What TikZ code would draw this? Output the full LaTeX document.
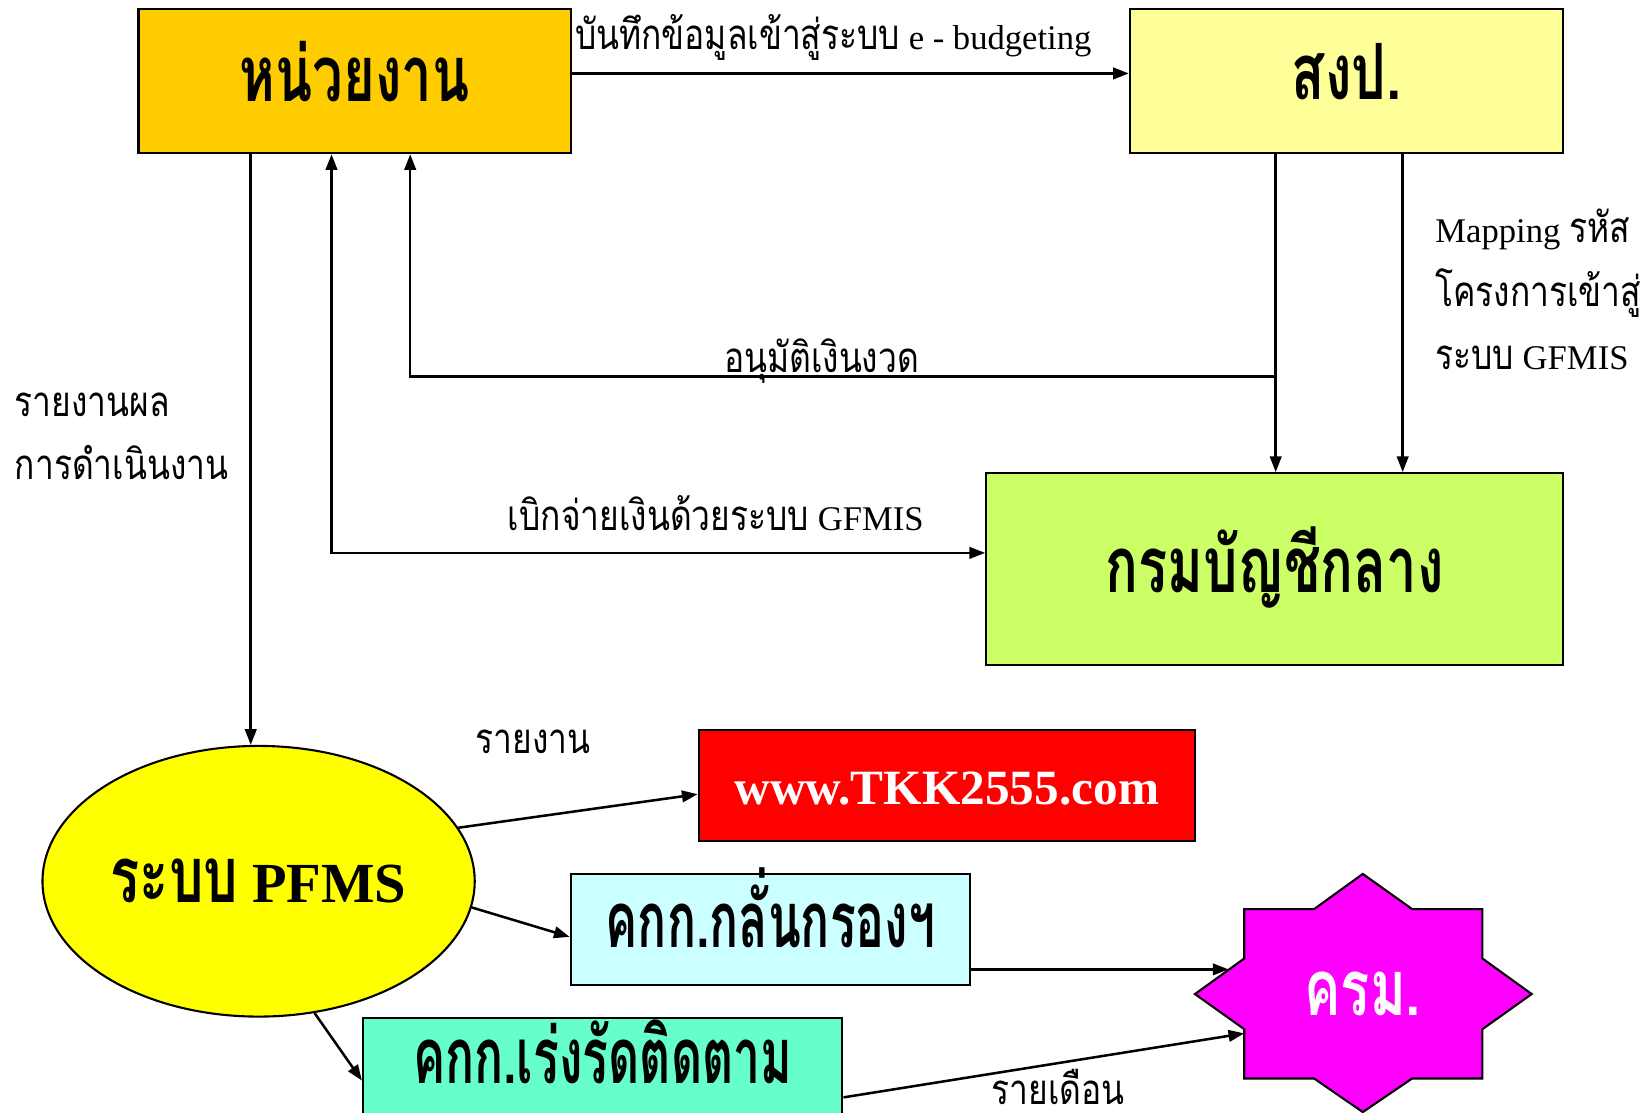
\documentclass[tikz,border=0pt]{standalone}
\usepackage{fontspec}
\usetikzlibrary{arrows.meta,shapes.geometric}
\setmainfont{Liberation Serif}
\newfontfamily\thaiL[Script=Thai,FakeStretch=0.8]{Loma}
\newfontfamily\thaiB[Script=Thai,FakeStretch=0.7]{Loma}
\newfontfamily\thaiC[Script=Thai,FakeStretch=0.62]{Loma}
\newcommand\labth{\fontsize{40}{48}\selectfont\thaiL}
\newcommand\lablat{\fontsize{33}{38}\selectfont\rmfamily}
\newcommand\ttlth{\fontsize{74}{80}\selectfont\thaiB\bfseries}
\newcommand\ttlthn{\fontsize{74}{80}\selectfont\thaiC\bfseries}
\newcommand\ttllat{\fontsize{47}{56}\selectfont\rmfamily\bfseries}
\newcommand\ttllatb{\fontsize{54}{60}\selectfont\rmfamily\bfseries}
\definecolor{cUnit}{HTML}{FFCC00}
\definecolor{cSgp}{HTML}{FFFF99}
\definecolor{cCgd}{HTML}{CCFF66}
\definecolor{cPf}{HTML}{FFFF00}
\definecolor{cWww}{HTML}{FF0000}
\definecolor{cKl}{HTML}{CCFFFF}
\definecolor{cRr}{HTML}{66FFCC}
\definecolor{cKrm}{HTML}{FF00FF}
\begin{document}
\begin{tikzpicture}[x=1pt,y=-1pt,
  box/.style={draw=black,line width=2pt,rectangle,inner sep=0pt,text depth=0pt},
  arr/.style={-{Triangle[length=15pt,width=11pt]},line width=2.4pt},
  arrboth/.style={{Triangle[length=15pt,width=11pt]}-{Triangle[length=15pt,width=11pt]},line width=2.4pt},
  lbl/.style={anchor=base west,inner sep=0pt,font=\lablat}]
\useasboundingbox (0,0) rectangle (1568,1060);
% boxes
\node[box,fill=cUnit,minimum width=412pt,minimum height=137pt,text height=39pt] (unit) at (338,77.5) {\ttlth หน่วยงาน};
\node[box,fill=cSgp,minimum width=413pt,minimum height=137pt,text height=35pt] (sgp) at (1283.5,77.5) {\ttlth สงป.};
\node[box,fill=cCgd,minimum width=550pt,minimum height=183pt,text height=45pt] (cgd) at (1215,542.5) {\ttlth กรมบัญชีกลาง};
\node[draw=black,ellipse,fill=cPf,line width=2pt,minimum width=412pt,minimum height=258pt,inner sep=0pt,text height=40pt,text depth=0pt,font=\ttllatb] (pf) at (246.5,840) {{\ttlth ระบบ} PFMS};
\node[box,fill=cWww,text=white,minimum width=473pt,minimum height=106pt,text height=36pt] (www) at (902.5,749) {\ttllat www.TKK2555.com};
\node[box,fill=cKl,minimum width=381pt,minimum height=106pt,text height=34pt] (kl) at (734.5,886) {\ttlthn คกก.กลั่นกรองฯ};
\node[box,fill=cRr,minimum width=457pt,minimum height=94pt,text height=32pt] (rr) at (574.5,1017) {\ttlthn คกก.เร่งรัดติดตาม};
% star
\draw[fill=cKrm,line width=2pt] (1299,833) -- (1346,866.5) -- (1413,866.5) -- (1413,913.6) -- (1460,947.5) -- (1413,981) -- (1413,1028) -- (1346,1028) -- (1299,1060) -- (1252.6,1028) -- (1186,1028) -- (1186,981) -- (1139,947.5) -- (1186,913.6) -- (1186,866.5) -- (1252.6,866.5) -- cycle;
\node[anchor=base,inner sep=0pt,text=white] (krm) at (1299,968) {\ttlth ครม.};
\coordinate (krmA) at (1171,924);
\coordinate (krmB) at (1186,985);
\coordinate (j1) at (1216,359);
% connectors
\draw[arr] ([yshift=7.5pt]unit.east) -- ([yshift=7.5pt]sgp.west);
\draw[arr] ([xshift=-99pt]unit.south) -- ([xshift=-7.5pt]pf.north);
\draw[arr] ([xshift=-67.5pt]sgp.south) -- ([xshift=1pt]cgd.north);
\draw[arr] ([xshift=53.5pt]sgp.south) -- ([xshift=122pt]cgd.north);
\draw[arr] (j1) -| ([xshift=53pt]unit.south);
\draw[arrboth] ([xshift=-22pt]unit.south) |- ([yshift=15.5pt]cgd.west);
\draw[arr] (pf.15.6) -- ([yshift=-8pt]www.west);
\draw[arr] (pf.-7.6) -- ([yshift=-7pt]kl.west);
\draw[arr] (pf.-67.6) -- ([yshift=-13pt]rr.west);
\draw[arr] (kl.east |- krmA) -- (krmA);
\draw[arr] ([yshift=-29pt]rr.east) -- (krmB);
% labels
\node[lbl] (l1) at (548,47) {{\labth บันทึกข้อมูลเข้าสู่ระบบ} e - budgeting};
\node[lbl] (l2) at (690,355) {\labth อนุมัติเงินงวด};
\node[lbl] (l3) at (484,506) {{\labth เบิกจ่ายเงินด้วยระบบ} GFMIS};
\node[lbl] (l4) at (14,397) {\labth รายงานผล};
\node[lbl] (l5) at (14,457) {\labth การดำเนินงาน};
\node[lbl] (l6) at (1368,231) {Mapping {\labth รหัส}};
\node[lbl] (l7) at (1368,292) {\labth โครงการเข้าสู่};
\node[lbl] (l8) at (1368,352) {{\labth ระบบ} GFMIS};
\node[lbl] (l9) at (453,718) {\labth รายงาน};
\node[lbl] (l10) at (945,1053) {\labth รายเดือน};
\end{tikzpicture}
\end{document}
